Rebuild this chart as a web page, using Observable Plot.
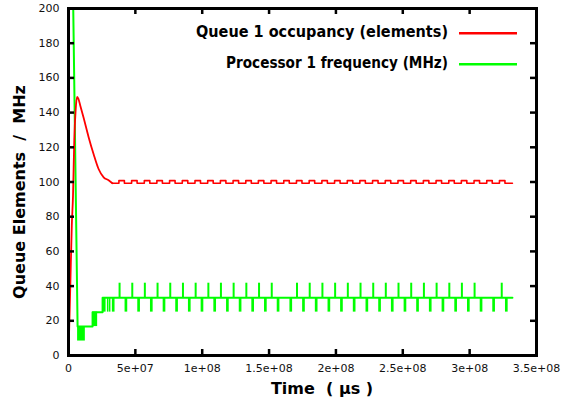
<!DOCTYPE html>
<html>
<head>
<meta charset="utf-8">
<script src="https://cdn.jsdelivr.net/npm/d3@7"></script>
<script src="https://cdn.jsdelivr.net/npm/@observablehq/plot@0.6"></script>
<style>
  html, body { margin: 0; padding: 0; background: white; }
</style>
</head>
<body>
<div id="chart"></div>
<script>
// ---- axis ticks ----
const xTicks = [0, 5e7, 1e8, 1.5e8, 2e8, 2.5e8, 3e8, 3.5e8];
const xTickLabels = ["0", "5e+07", "1e+08", "1.5e+08", "2e+08", "2.5e+08", "3e+08", "3.5e+08"];
const yTicks = [0, 20, 40, 60, 80, 100, 120, 140, 160, 180, 200];

// ---- series labels ----
const seriesNames = ["Queue 1 occupancy (elements)", "Processor 1 frequency (MHz)"];
const seriesColors = ["#ff0000", "#00ff00"];

// ---- Queue 1 occupancy (time in millions of µs) ----
const redT = [0, 1.35, 2.47, 3.37, 4.34, 5.31, 6.36, 7.34, 8.83, 11.3, 15.0, 18.8, 22.5, 26.3, 30.0, 32.8];
const redV = [0, 40, 75, 92, 125, 141, 149, 148, 144, 137, 126, 116, 107.5, 102.7, 101, 99.3];
const redHigh = 100.8, redLow = 99.3;
const redRise = [37.7, 47.2, 56.7, 66.1, 75.6, 85.1, 94.6, 104.1, 113.6, 123.1, 132.6, 142.0, 151.5, 161.0, 170.5, 180.0,
  189.5, 199.0, 208.5, 217.9, 227.4, 236.9, 246.4, 255.9, 265.4, 274.9, 284.4, 293.8, 303.3, 312.8, 322.3];
const redFall = [41.8, 51.3, 60.8, 70.2, 79.7, 89.2, 98.7, 108.2, 117.7, 127.2, 136.7, 146.1, 155.6, 165.1, 174.6, 184.1,
  193.6, 203.1, 212.6, 222.0, 231.5, 241.0, 250.5, 260.0, 269.5, 279.0, 288.5, 297.9, 307.4, 316.9, 326.4];
const redEnd = 332.0;

// ---- Processor 1 frequency (time in millions of µs) ----
const greenT = [0, 6.8, 18.0, 18.0, 25.5, 25.5, 332.0];
const greenV = [400, 16.67, 16.67, 25, 25, 33.33, 33.33];
const greenBase = 33.33, greenUp = 41.67, greenDown = 25;
// instants where frequency briefly rises to 41.67
const upSpikeT = [38.2, 47.7, 57.1, 66.6, 76.1, 85.6, 95.1, 104.6, 114.0, 123.5, 133.0, 142.5, 152.0,
  170.9, 180.4, 189.9, 199.4, 208.9, 218.4, 227.9, 237.3, 246.8, 256.3, 265.8, 275.3, 284.8, 294.2, 303.7, 324.0];
// instants where frequency briefly drops to 25
const dropT = [29.3, 30.8];
// dense oscillation bursts: start, end, low, high
const burstStart = [6.8, 18.0, 25.5, 32.8, 42.3, 51.8, 61.3, 70.8, 80.2, 89.7, 99.2, 108.7, 118.2, 127.7, 137.1, 146.6, 156.1,
  165.6, 175.1, 184.6, 194.1, 203.5, 213.0, 222.5, 232.0, 241.5, 251.0, 260.4, 269.9, 279.4, 288.9, 298.4, 307.9, 317.3, 326.8];
const burstEnd = [12.6, 21.8, 28.1, 34.8, 44.3, 53.8, 63.3, 72.8, 82.2, 91.7, 101.2, 110.7, 120.2, 129.7, 139.1, 148.6, 158.1,
  167.6, 177.1, 186.6, 196.1, 205.5, 215.0, 224.5, 234.0, 243.5, 253.0, 262.4, 271.9, 281.4, 290.9, 300.4, 309.9, 319.3, 328.8];
const burstLow = [8.33, 16.67, 25, 25, 25, 25, 25, 25, 25, 25, 25, 25, 25, 25, 25, 25, 25,
  25, 25, 25, 25, 25, 25, 25, 25, 25, 25, 25, 25, 25, 25, 25, 25, 25, 25];
const burstHigh = [16.67, 25, 33.33, 33.33, 33.33, 33.33, 33.33, 33.33, 33.33, 33.33, 33.33, 33.33, 33.33, 33.33, 33.33, 33.33, 33.33,
  33.33, 33.33, 33.33, 33.33, 33.33, 33.33, 33.33, 33.33, 33.33, 33.33, 33.33, 33.33, 33.33, 33.33, 33.33, 33.33, 33.33, 33.33];

// ---- build tables ----
const M = 1e6;
const redTransient = redT.map((t, i) => ({t: t * M, v: redV[i]}));
const redSteady = [{t: redT[redT.length - 1] * M, v: redLow}];
redRise.forEach((r, i) => {
  redSteady.push({t: r * M, v: redLow}, {t: r * M, v: redHigh}, {t: redFall[i] * M, v: redHigh}, {t: redFall[i] * M, v: redLow});
});
redSteady.push({t: redEnd * M, v: redLow});

const green = greenT.map((t, i) => ({t: t * M, v: greenV[i]}));
const ups = upSpikeT.map(t => ({t: t * M}));
const drops = dropT.map(t => ({t: t * M}));
const bursts = burstStart.map((s, i) => ({t1: s * M, t2: burstEnd[i] * M, lo: burstLow[i], hi: burstHigh[i]}));

const W = 561, H = 405;
const mL = 68, mR = 25, mT = 8, mB = 50;
const innerW = W - mL - mR, innerH = H - mT - mB;
const tickLen = 6;

const plot = Plot.plot({
  width: W,
  height: H,
  marginLeft: mL,
  marginRight: mR,
  marginTop: mT,
  marginBottom: mB,
  style: {fontFamily: "DejaVu Sans", fontSize: "11px", color: "#111", background: "white"},
  x: {domain: [0, 3.5e8]},
  y: {domain: [0, 200]},
  marks: [
    Plot.rect(bursts, {x1: "t1", x2: "t2", y1: "lo", y2: "hi", fill: seriesColors[1]}),
    Plot.ruleX(ups, {x: "t", y1: greenBase, y2: greenUp, stroke: seriesColors[1], strokeWidth: 2}),
    Plot.ruleX(drops, {x: "t", y1: greenDown, y2: greenBase, stroke: seriesColors[1], strokeWidth: 1.5}),
    Plot.line(green, {x: "t", y: "v", stroke: seriesColors[1], strokeWidth: 2, clip: true}),
    Plot.line(redTransient, {x: "t", y: "v", stroke: seriesColors[0], strokeWidth: 1.8, curve: "monotone-x", clip: true}),
    Plot.line(redSteady, {x: "t", y: "v", stroke: seriesColors[0], strokeWidth: 1.6, clip: true}),
    // inward ticks on four sides
    Plot.tickX(xTicks, {x: d => d, insetTop: innerH - tickLen, stroke: "black", strokeWidth: 2.5}),
    Plot.tickX(xTicks, {x: d => d, insetBottom: innerH - tickLen, stroke: "black", strokeWidth: 2.5}),
    Plot.tickY(yTicks, {y: d => d, insetRight: innerW - tickLen, stroke: "black", strokeWidth: 2.5}),
    Plot.tickY(yTicks, {y: d => d, insetLeft: innerW - tickLen, stroke: "black", strokeWidth: 2.5}),
    Plot.frame({stroke: "black", strokeWidth: 3}),
    Plot.axisX({ticks: xTicks, tickFormat: d => xTickLabels[xTicks.indexOf(d)], tickSize: 0, tickPadding: 9, label: null}),
    Plot.axisY({ticks: yTicks, tickSize: 0, tickPadding: 9, label: null})
  ]
});

const svg = d3.select(plot);
// axis titles
svg.append("text")
  .attr("transform", "translate(25,192) rotate(-90)")
  .attr("text-anchor", "middle")
  .attr("font-family", "DejaVu Sans").attr("font-weight", "bold").attr("font-size", 16)
  .attr("fill", "black")
  .attr("xml:space", "preserve")
  .text("Queue Elements  /  MHz");
svg.append("text")
  .attr("x", 322).attr("y", 394)
  .attr("text-anchor", "middle")
  .attr("font-family", "DejaVu Sans").attr("font-weight", "bold").attr("font-size", 16)
  .attr("fill", "black")
  .attr("xml:space", "preserve")
  .text("Time  ( µs )");

// legend
const legendY = [33.3, 64.3];
const legendLen = [252, 222];
seriesNames.forEach((name, i) => {
  svg.append("text")
    .attr("x", 448).attr("y", legendY[i] + 4)
    .attr("text-anchor", "end")
    .attr("font-family", "DejaVu Sans").attr("font-weight", "bold").attr("font-size", 15)
    .attr("textLength", legendLen[i]).attr("lengthAdjust", "spacingAndGlyphs")
    .attr("fill", "black")
    .text(name);
  svg.append("line")
    .attr("x1", 459).attr("x2", 517).attr("y1", legendY[i]).attr("y2", legendY[i])
    .attr("stroke", seriesColors[i]).attr("stroke-width", 2.5);
});

document.getElementById("chart").appendChild(plot);
</script>
</body>
</html>
